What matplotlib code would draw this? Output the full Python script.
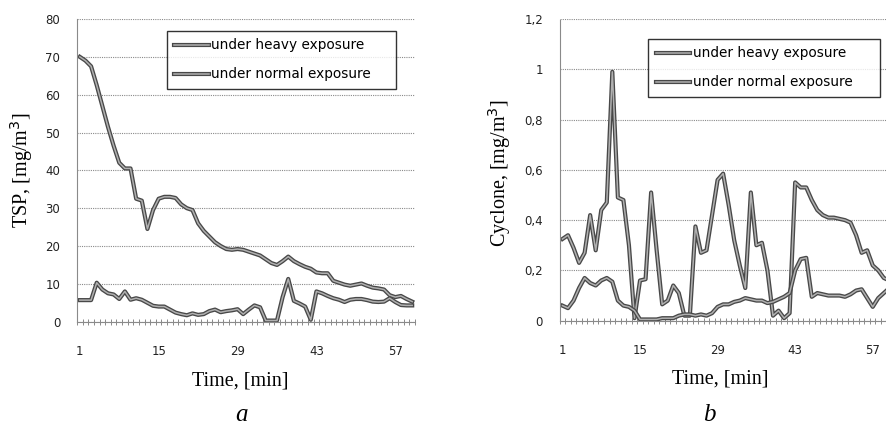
import numpy as np
import matplotlib
matplotlib.use("Agg")
import matplotlib.pyplot as plt
import matplotlib.patheffects as pe
from matplotlib.ticker import FixedLocator, FuncFormatter

# Time in minutes (one reading per minute)
minutes = np.arange(1, 61)

# TSP concentration, mg/m3
tsp_heavy = [70, 69, 67.5, 62.5, 57, 51.5, 46.5, 42, 40.5, 40.5,
             32.5, 32, 24.5, 29.5, 32.5, 33, 33, 32.7, 31, 30,
             29.5, 26, 24, 22.5, 21, 20, 19.2, 19, 19.2, 19,
             18.5, 18, 17.5, 16.5, 15.5, 15, 16, 17.2, 16, 15.2,
             14.5, 14, 13, 12.8, 12.8, 10.8, 10.3, 9.8, 9.5, 9.8,
             10.1, 9.5, 9, 8.8, 8.5, 7, 6.5, 6.8, 6.0, 5.3]
tsp_normal = [5.7, 5.7, 5.7, 10.3, 8.5, 7.5, 7.2, 6.0, 8.0, 5.8,
              6.2, 5.8, 5.0, 4.2, 4.0, 4.0, 3.2, 2.4, 2.0, 1.7,
              2.2, 1.8, 2.0, 2.8, 3.2, 2.5, 2.8, 3.0, 3.3, 2.0,
              3.2, 4.3, 3.8, 0.3, 0.3, 0.3, 6.5, 11.3, 5.5, 4.8,
              4.0, 0.5, 8.0, 7.5, 6.8, 6.2, 5.8, 5.2, 5.8, 6.0,
              6.0, 5.7, 5.3, 5.2, 5.3, 6.2, 5.2, 4.4, 4.3, 4.3]

# Cyclone concentration, mg/m3
cyc_heavy = [0.325, 0.34, 0.29, 0.23, 0.27, 0.42, 0.28, 0.44, 0.47, 0.99,
             0.49, 0.48, 0.30, 0.01, 0.16, 0.165, 0.51, 0.28, 0.065, 0.08,
             0.14, 0.11, 0.02, 0.02, 0.375, 0.27, 0.28, 0.42, 0.56, 0.585,
             0.46, 0.32, 0.22, 0.13, 0.51, 0.30, 0.31, 0.20, 0.02, 0.04,
             0.01, 0.03, 0.55, 0.53, 0.53, 0.48, 0.44, 0.42, 0.41, 0.41,
             0.405, 0.40, 0.39, 0.34, 0.27, 0.28, 0.22, 0.20, 0.17, 0.16]
cyc_normal = [0.06, 0.05, 0.08, 0.13, 0.17, 0.15, 0.14, 0.16, 0.17, 0.155,
              0.08, 0.06, 0.055, 0.04, 0.005, 0.005, 0.005, 0.005, 0.01, 0.01,
              0.01, 0.02, 0.025, 0.025, 0.02, 0.025, 0.02, 0.03, 0.055, 0.065,
              0.065, 0.075, 0.08, 0.09, 0.085, 0.08, 0.08, 0.07, 0.075, 0.085,
              0.095, 0.11, 0.20, 0.245, 0.25, 0.095, 0.11, 0.105, 0.10, 0.10,
              0.10, 0.095, 0.105, 0.12, 0.125, 0.09, 0.055, 0.09, 0.11, 0.13]

series_labels = ["under heavy exposure", "under normal exposure"]
x_ticks = [1, 15, 29, 43, 57]

serif = "Liberation Serif"
line_fx = [pe.Stroke(linewidth=3.0, foreground="#484848"), pe.Normal()]
grid_gray = "#8a8a8a"

fig = plt.figure(figsize=(8.86, 4.28), dpi=100)
ax_a = fig.add_axes([0.0869, 0.2484, 0.3815, 0.7072])
ax_b = fig.add_axes([0.6317, 0.2507, 0.3752, 0.7049])


def style_axes(ax, ymax, ystep, fmt):
    ax.set_xlim(0.5, 60.5)
    ax.set_ylim(0, ymax)
    ax.set_yticks(np.arange(0, ymax + ystep / 2, ystep))
    ax.yaxis.set_major_formatter(FuncFormatter(fmt))
    ax.grid(axis="y", color=grid_gray, linestyle=(0, (1, 1)), linewidth=0.8)
    ax.set_axisbelow(True)
    for side in ["top", "right"]:
        ax.spines[side].set_visible(False)
    for side in ["left", "bottom"]:
        ax.spines[side].set_color(grid_gray)
        ax.spines[side].set_linestyle((0, (1, 1)))
        ax.spines[side].set_linewidth(0.8)
    ax.xaxis.set_major_locator(FixedLocator(x_ticks))
    ax.xaxis.set_minor_locator(FixedLocator(np.arange(0.5, 61, 1)))
    ax.tick_params(axis="x", which="major", length=0, pad=17,
                   labelsize=8.5, labelcolor="#222222")
    ax.tick_params(axis="x", which="minor", length=4, width=0.7,
                   color=grid_gray, direction="inout")
    ax.tick_params(axis="y", length=0, pad=12, labelsize=8.5,
                   labelcolor="#222222")


def draw_lines(ax, heavy, normal, legend_box):
    for vals, lab in zip([heavy, normal], series_labels):
        ln, = ax.plot(minutes, vals, color="#b0b0b0", linewidth=1.1,
                      label=lab, solid_joinstyle="round")
        ln.set_path_effects(line_fx)
    # legend stretched to a fixed width box
    leg = ax.legend(loc="upper left", bbox_to_anchor=legend_box, mode="expand",
                    fontsize=9.8, frameon=True, fancybox=False,
                    handlelength=2.55, handletextpad=0.2, labelspacing=1.1,
                    borderpad=0.55, borderaxespad=0)
    leg.get_frame().set_edgecolor("black")
    leg.get_frame().set_linewidth(1.0)


style_axes(ax_a, 80, 10, lambda v, p: f"{v:.0f}")
draw_lines(ax_a, tsp_heavy, tsp_normal, (0.265, 0.961, 0.68, 0))
ax_a.set_ylabel("TSP, [mg/m$^3$]", family=serif, fontsize=14.5)
ax_a.yaxis.set_label_coords(-0.125, 0.5)
ax_a.set_xlabel("Time, [min]", family=serif, fontsize=14.5)
ax_a.xaxis.set_label_coords(0.482, -0.163)


def comma_fmt(v, p):
    s = f"{v:.1f}".rstrip("0").rstrip(".")
    return s.replace(".", ",")


style_axes(ax_b, 1.2, 0.2, comma_fmt)
draw_lines(ax_b, cyc_heavy, cyc_normal, (0.266, 0.934, 0.698, 0))
ax_b.set_ylabel("Cyclone, [mg/m$^3$]", family=serif, fontsize=14.5)
ax_b.yaxis.set_label_coords(-0.14, 0.49)
ax_b.set_xlabel("Time, [min]", family=serif, fontsize=14.5)
ax_b.xaxis.set_label_coords(0.482, -0.163)

fig.text(242 / 886, 0.03, "a", family=serif, style="italic", fontsize=18,
         ha="center", va="center")
fig.text(709 / 886, 0.03, "b", family=serif, style="italic", fontsize=18,
         ha="center", va="center")

fig.savefig("out.png", dpi=100)
